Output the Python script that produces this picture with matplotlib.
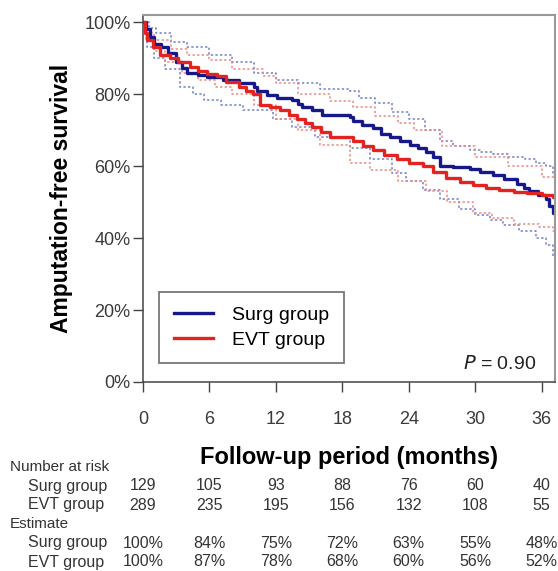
import numpy as np
import matplotlib.pyplot as plt
import matplotlib.transforms as mtransforms

plt.rcParams['font.family'] = ['Liberation Sans', 'DejaVu Sans']

# Kaplan-Meier curves (months, survival)
surg_t = [0, 0.3, 0.6, 1.0, 1.6, 2.3, 3.0, 3.5, 4.0, 5.0, 5.8, 7.2, 8.7, 10.0, 10.3, 11.2,
          12.1, 13.5, 14.0, 14.4, 15.3, 16.2, 18.7, 19.0, 19.8, 20.8, 21.5, 22.3, 23.2, 24.1,
          24.8, 25.6, 26.2, 26.8, 28.0, 29.5, 30.4, 31.6, 32.6, 33.8, 34.4, 34.9, 35.7, 36.4,
          36.7, 37.0, 37.2]
surg_s = [1.0, 0.98, 0.96, 0.94, 0.93, 0.915, 0.89, 0.872, 0.86, 0.852, 0.847, 0.84, 0.83, 0.82,
          0.81, 0.797, 0.79, 0.783, 0.772, 0.764, 0.755, 0.742, 0.736, 0.725, 0.715, 0.705, 0.69,
          0.68, 0.67, 0.66, 0.65, 0.64, 0.625, 0.60, 0.597, 0.593, 0.585, 0.575, 0.565, 0.55, 0.54,
          0.53, 0.52, 0.51, 0.49, 0.47, 0.47]

evt_t = [0, 0.2, 0.4, 0.9, 1.5, 2.4, 3.2, 4.2, 5.0, 5.8, 6.7, 7.5, 8.7, 9.3, 9.9, 10.6, 11.5,
         12.4, 13.2, 13.9, 14.6, 15.3, 16.1, 16.9, 19.0, 19.9, 20.8, 21.8, 22.9, 24.0, 25.3,
         26.2, 27.4, 28.6, 29.8, 31.0, 32.2, 33.5, 34.7, 36.0, 37.0, 37.2]
evt_s = [1.0, 0.97, 0.95, 0.93, 0.91, 0.90, 0.89, 0.875, 0.865, 0.857, 0.85, 0.835, 0.82, 0.81,
         0.80, 0.77, 0.763, 0.755, 0.742, 0.73, 0.72, 0.71, 0.695, 0.68, 0.67, 0.657, 0.645,
         0.632, 0.62, 0.61, 0.60, 0.585, 0.567, 0.557, 0.547, 0.54, 0.533, 0.528, 0.525, 0.52,
         0.515, 0.515]

# 95% confidence bands
surg_up_t = [0, 0.5, 1.2, 2.5, 4.0, 6.0, 8.0, 10.0, 12.0, 14.0, 16.0, 18.7, 19.5, 21.0, 22.5,
             24.0, 25.5, 26.8, 28.0, 29.5, 30.4, 31.6, 33.0, 34.5, 35.5, 36.4, 37.0, 37.2]
surg_up_s = [1.0, 0.985, 0.97, 0.945, 0.93, 0.91, 0.89, 0.86, 0.84, 0.83, 0.815, 0.81, 0.79,
             0.775, 0.75, 0.73, 0.70, 0.67, 0.655, 0.645, 0.64, 0.633, 0.625, 0.62, 0.61, 0.60,
             0.575, 0.575]
surg_lo_t = [0, 0.4, 1.0, 2.0, 3.3, 4.5, 5.5, 7.0, 9.0, 11.7, 13.5, 15.5, 18.7, 20.5, 22.5,
             23.8, 25.3, 26.8, 28.5, 30.0, 31.3, 32.5, 34.0, 35.5, 36.4, 37.0, 37.2]
surg_lo_s = [1.0, 0.93, 0.90, 0.87, 0.82, 0.80, 0.785, 0.77, 0.755, 0.73, 0.71, 0.68, 0.65, 0.62,
             0.58, 0.56, 0.535, 0.51, 0.48, 0.465, 0.45, 0.435, 0.42, 0.40, 0.38, 0.35, 0.35]
evt_up_t = [0, 0.3, 1.0, 2.5, 4.0, 6.0, 8.0, 10.8, 12.0, 14.0, 16.9, 19.0, 21.0, 23.0, 24.5,
            27.0, 30.0, 33.0, 36.0, 37.2]
evt_up_s = [1.0, 0.97, 0.95, 0.925, 0.91, 0.895, 0.87, 0.85, 0.83, 0.80, 0.78, 0.765, 0.74,
            0.72, 0.70, 0.655, 0.625, 0.60, 0.57, 0.56]
evt_lo_t = [0, 0.3, 1.0, 2.0, 3.5, 5.0, 6.5, 8.0, 10.0, 12.0, 14.0, 16.0, 18.7, 20.5, 23.0,
            25.6, 27.5, 29.8, 31.5, 33.5, 35.8, 37.0, 37.2]
evt_lo_s = [1.0, 0.95, 0.92, 0.89, 0.86, 0.84, 0.82, 0.80, 0.77, 0.73, 0.70, 0.66, 0.61, 0.59,
            0.56, 0.53, 0.50, 0.47, 0.455, 0.44, 0.43, 0.42, 0.42]

# risk table
months = [0, 6, 12, 18, 24, 30, 36]
surg_risk = [129, 105, 93, 88, 76, 60, 40]
evt_risk = [289, 235, 195, 156, 132, 108, 55]
surg_est = ['100%', '84%', '75%', '72%', '63%', '55%', '48%']
evt_est = ['100%', '87%', '78%', '68%', '60%', '56%', '52%']

blue = '#17188a'
red = '#e2231f'

fig = plt.figure(figsize=(5.58, 5.71), dpi=100)
ax = fig.add_axes([0.2563, 0.331, 0.738, 0.6427])

# confidence bands first, so the main curves are on top
ci_ls = (0, (1.5, 1.5))
ax.step(surg_up_t, surg_up_s, where='post', color='#7080cc', lw=1.1, ls=ci_ls)
ax.step(surg_lo_t, surg_lo_s, where='post', color='#7080cc', lw=1.1, ls=ci_ls)
ax.step(evt_up_t, evt_up_s, where='post', color='#ee8884', lw=1.1, ls=ci_ls)
ax.step(evt_lo_t, evt_lo_s, where='post', color='#ee8884', lw=1.1, ls=ci_ls)

ax.step(surg_t, surg_s, where='post', color=blue, lw=2.4, label='Surg group')
ax.step(evt_t, evt_s, where='post', color=red, lw=2.4, label='EVT group')

ax.set_xlim(0, 37.2)
ax.set_ylim(0, 1.02)
ax.set_xticks(months)
ax.set_yticks([0, 0.2, 0.4, 0.6, 0.8, 1.0])
ax.set_yticklabels(['0%', '20%', '40%', '60%', '80%', '100%'])
ax.tick_params(axis='both', direction='out', length=7, width=1, color='#444',
               labelsize=13, labelcolor='#3a3a3a')
ax.tick_params(axis='x', pad=14)
ax.tick_params(axis='y', pad=2)

for side in ['left', 'bottom']:
    ax.spines[side].set_color('#444')
    ax.spines[side].set_linewidth(1.1)
for side in ['top', 'right']:
    ax.spines[side].set_color('#999')
    ax.spines[side].set_linewidth(1.5)

ax.set_ylabel('Amputation-free survival', fontsize=16.5, fontweight='bold', labelpad=8)
ax.set_xlabel('Follow-up period (months)', fontsize=17, fontweight='bold', labelpad=13)

leg = ax.legend(loc='lower left', bbox_to_anchor=(0.039, 0.051), borderaxespad=0,
                fontsize=14, fancybox=False, framealpha=1, edgecolor='#777',
                handlelength=2.0, borderpad=0.75, labelspacing=0.35, handletextpad=1.0)
leg.get_frame().set_linewidth(1.3)

ax.text(0.956, 0.05, r'$P$ = 0.90', transform=ax.transAxes, ha='right', va='center',
        fontsize=14, color='#222')

# number at risk / estimate table under the axis
trans = mtransforms.blended_transform_factory(ax.transData, fig.transFigure)
H = 571.0
rows_y = [467, 486, 505, 524, 543, 562]
fig.text(10 / 558, 1 - rows_y[0] / H, 'Number at risk', fontsize=11, color='#333', va='center')
fig.text(28 / 558, 1 - rows_y[1] / H, 'Surg group', fontsize=11.5, color='#333', va='center')
fig.text(28 / 558, 1 - rows_y[2] / H, 'EVT group', fontsize=11.5, color='#333', va='center')
fig.text(10 / 558, 1 - rows_y[3] / H, 'Estimate', fontsize=11, color='#333', va='center')
fig.text(28 / 558, 1 - rows_y[4] / H, 'Surg group', fontsize=11.5, color='#333', va='center')
fig.text(28 / 558, 1 - rows_y[5] / H, 'EVT group', fontsize=11.5, color='#333', va='center')

narrow = ['Liberation Sans Narrow', 'Liberation Sans']
for m, a, b, c, d in zip(months, surg_risk, evt_risk, surg_est, evt_est):
    for val, ry in [(a, rows_y[1]), (b, rows_y[2]), (c, rows_y[4]), (d, rows_y[5])]:
        ax.text(m, 1 - ry / H, str(val), transform=trans, ha='center', va='center',
                fontsize=11.5, color='#333', family=narrow)

fig.savefig('out.png', dpi=100)
